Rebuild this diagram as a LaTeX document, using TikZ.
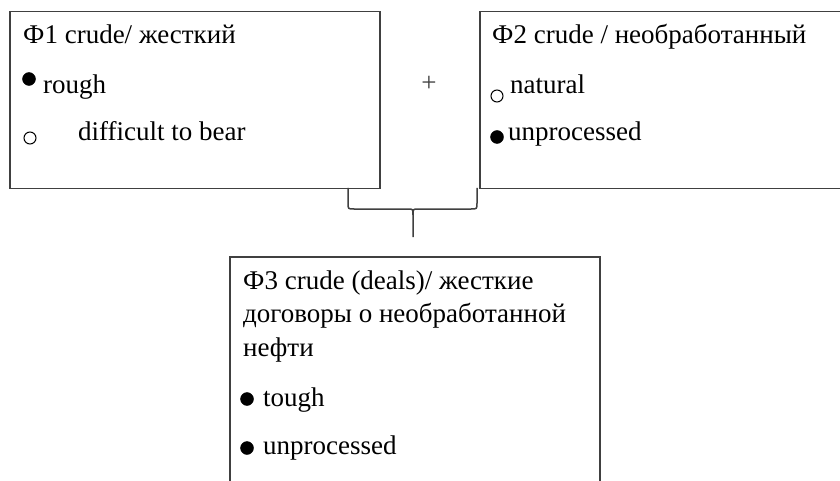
\documentclass[tikz,border=0pt]{standalone}
\usepackage{fontspec}
\setmainfont{Liberation Serif}
\begin{document}
\begin{tikzpicture}[x=1pt,y=-1pt,
  box/.style={draw=linegray, line width=1.5pt, rectangle, inner sep=0pt, anchor=north west},
  txt/.style={anchor=base west, inner sep=0pt, font=\fontsize{27}{31}\selectfont},
  dotfull/.style={circle, fill=black, draw=black, inner sep=0pt, minimum size=13pt},
  dotopen/.style={circle, draw=black, line width=1pt, inner sep=0pt, minimum size=12pt},
  brace/.style={draw=linegray, line width=1.5pt}]
\definecolor{linegray}{RGB}{64,64,64}
\clip (0,0) rectangle (840,481);
\fill[white] (0,0) rectangle (840,481);
% boxes
\node[box, minimum width=370pt, minimum height=177pt] (f1) at (9,11) {};
\node[box, minimum width=380pt, minimum height=177pt] (f2) at (479,11) {};
\node[box, minimum width=370pt, minimum height=250pt] (f3) at (229,256) {};
% box 1
\node[txt] (t1) at (23,44) {Ф1 crude/ жесткий};
\node[dotfull] (d11) at (29,79) {};
\node[txt] (t11) at (43,94) {rough};
\node[dotopen] (d12) at (30,138) {};
\node[txt] (t12) at (78,141) {difficult to bear};
% plus
\node[txt, anchor=center, text=linegray] (plus) at (429,84) {+};
% box 2
\node[txt] (t2) at (492,44) {Ф2 crude / необработанный};
\node[dotopen] (d21) at (497,96) {};
\node[txt] (t21) at (510,94) {natural};
\node[dotfull] (d22) at (497,137) {};
\node[txt] (t22) at (508,141) {unprocessed};
% box 3
\node[txt] (t3a) at (243,289) {Ф3 crude (deals)/ жесткие};
\node[txt] (t3b) at (243,322) {договоры о необработанной};
\node[txt] (t3c) at (243,356) {нефти};
\node[dotfull] (d31) at (247,399) {};
\node[txt] (t31) at (263,406) {tough};
\node[dotfull] (d32) at (247,448) {};
\node[txt] (t32) at (263,454) {unprocessed};
% brace
\coordinate (bl) at (348,188);
\coordinate (br) at (477,188);
\coordinate (tip) at (413,237);
\draw[brace] (bl) -- (348,203) .. controls (348,209) .. (354,209) -- (408,209)
  .. controls (413,209) .. (413,215) -- (tip);
\draw[brace] (413,215) .. controls (413,209) .. (418,209) -- (471,209)
  .. controls (477,209) .. (477,203) -- (br);
\end{tikzpicture}
\end{document}
